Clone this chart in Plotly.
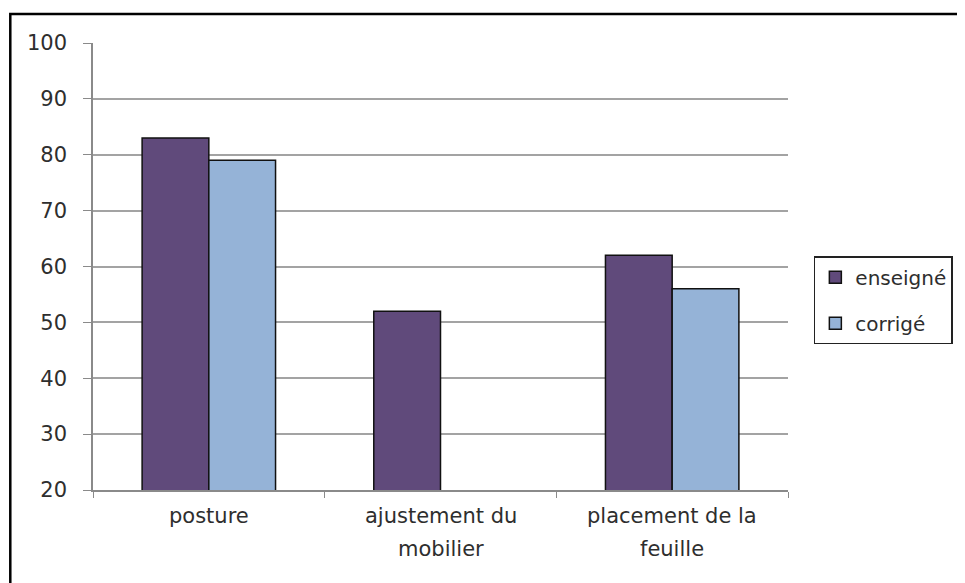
import plotly.graph_objects as go

categories = ["posture", "ajustement du mobilier", "placement de la feuille"]
label_line1 = ["posture", "ajustement du", "placement de la"]
label_line2 = ["", "mobilier", "feuille"]
enseigne = [83, 52, 62]
corrige = [79, None, 56]
y_ticks = [20, 30, 40, 50, 60, 70, 80, 90, 100]

FONT = "DejaVu Sans"
TXT = "#2e2e2e"
FS = 21

fig = go.Figure()
fig.add_trace(go.Bar(x=categories, y=enseigne, name="enseigné",
                     marker=dict(color="#604A7B", line=dict(color="#111111", width=1.5)),
                     legendgroup="a"))
fig.add_trace(go.Bar(x=categories, y=corrige, name="corrigé",
                     marker=dict(color="#95B3D7", line=dict(color="#111111", width=1.5)),
                     legendgroup="b"))

annotations = []
for c, l1, l2 in zip(categories, label_line1, label_line2):
    annotations.append(dict(x=c, xref="x", y=-0.058, yref="paper", text=l1,
                            showarrow=False, yanchor="middle",
                            font=dict(family=FONT, size=FS, color=TXT)))
    if l2:
        annotations.append(dict(x=c, xref="x", y=-0.132, yref="paper", text=l2,
                                showarrow=False, yanchor="middle",
                                font=dict(family=FONT, size=FS, color=TXT)))

fig.update_layout(
    width=957, height=575,
    margin=dict(l=85, r=174, t=35, b=93),
    paper_bgcolor="white", plot_bgcolor="white",
    barmode="group", bargap=0.424, bargroupgap=0,
    font=dict(family=FONT, size=FS, color=TXT),
    showlegend=True,
    legend=dict(x=1.0372, xanchor="left", y=0.523, yanchor="top",
                bordercolor="#222222", borderwidth=1.5, bgcolor="white",
                tracegroupgap=17,
                font=dict(family=FONT, size=20, color=TXT)),
    xaxis=dict(showticklabels=False, showgrid=False, showline=True,
               linecolor="#8a8a8a", linewidth=1.5, ticks="outside",
               tickson="boundaries", ticklen=6, tickcolor="#8a8a8a"),
    yaxis=dict(range=[20, 100], tickvals=y_ticks, showgrid=True,
               gridcolor="#a3a3a3", gridwidth=2, showline=True,
               linecolor="#8a8a8a", linewidth=1.5, ticks="outside",
               ticklen=8, tickcolor="#8a8a8a", zeroline=False,
               ticklabelstandoff=12,
               tickfont=dict(family=FONT, size=FS, color=TXT)),
    annotations=annotations,
    shapes=[dict(type="rect", xref="paper", yref="paper",
                 x0=-0.119, x1=2.0, y0=-1.0, y1=1.065,
                 line=dict(color="black", width=2.5), layer="below")],
)

fig.write_html("out.html", config={"responsive": False})
